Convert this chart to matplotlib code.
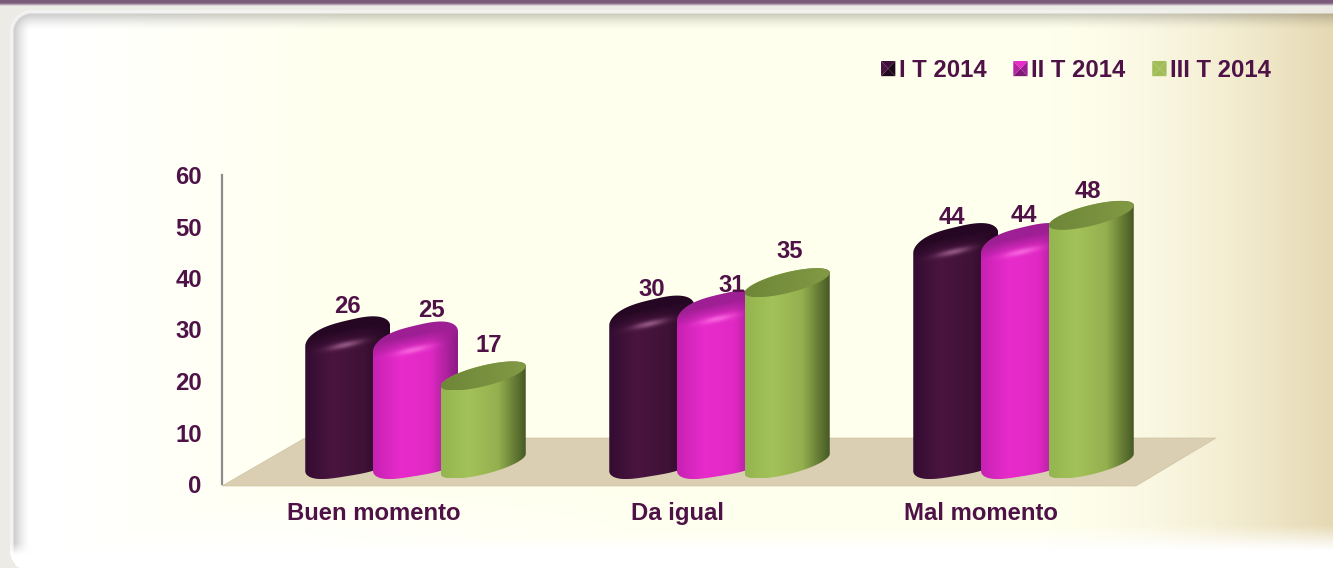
import matplotlib
matplotlib.use("Agg")
import matplotlib.pyplot as plt
import numpy as np
from matplotlib.patches import Polygon, Patch
from matplotlib.legend_handler import HandlerPatch

plt.rcParams['font.family'] = ['Liberation Sans', 'DejaVu Sans']
plt.rcParams['font.weight'] = 'bold'

categories = ["Buen momento", "Da igual", "Mal momento"]
series_names = ["I T 2014", "II T 2014", "III T 2014"]
t1_values = [26, 30, 44]
t2_values = [25, 31, 44]
t3_values = [17, 35, 48]
y_ticks = [0, 10, 20, 30, 40, 50, 60]

W, H = 1333, 568
TXT = "#4e1246"

# left, middle, right colour across each cylinder
shades = [
    [(0.20, 0.05, 0.19), (0.29, 0.08, 0.25), (0.25, 0.07, 0.22), (0.14, 0.03, 0.13)],
    [(0.78, 0.13, 0.70), (0.91, 0.17, 0.80), (0.88, 0.16, 0.77), (0.55, 0.11, 0.52)],
    [(0.58, 0.71, 0.31), (0.64, 0.76, 0.35), (0.58, 0.69, 0.31), (0.28, 0.35, 0.14)],
]
cap_dark = [(0.15, 0.03, 0.14), (0.62, 0.12, 0.58)]
cap_light = [(0.66, 0.42, 0.60), (1.0, 0.50, 0.90)]

# label shift from the middle of each bar top, in pixels
label_dx = [[0, 16, 6], [0, 12, 2], [-4, 0, -3]]
label_dy = [[23, 24, 30.5], [19, 18, 31], [18.5, 20.5, 23.5]]

fig = plt.figure(figsize=(W / 100, H / 100), dpi=100)


def background():
    yy, xx = np.mgrid[0:H, 0:W]
    xx = xx + 0.5
    yy = yy + 0.5
    # ivory middle, tan to the right, white to the left and bottom
    ivory = np.array([1.0, 1.0, 0.93])
    tan = np.array([0.90, 0.85, 0.70])
    white = np.array([1.0, 1.0, 1.0])
    k = (np.clip((xx - 1050) / 283, 0, 1) ** 1.6)[..., None]
    img = ivory * (1 - k) + tan * k
    k = np.clip(1 - (xx - 60) / 300, 0, 1)[..., None]
    k2 = np.clip((yy - 525) / 25, 0, 1)[..., None]
    k = np.maximum(k, k2)
    k = np.maximum(k, np.clip((yy - 470) / 80, 0, 1)[..., None] * np.clip(1 - (xx - 300) / 500, 0, 1)[..., None])
    img = img * (1 - k) + white * k
    # rounded panel edge
    left, top, r = 10, 10, 22
    qx = np.maximum(left + r - xx, 0)
    qy = np.maximum(top + r - yy, 0)
    d = r - np.hypot(qx, qy)
    d = np.where((qx > 0) & (qy > 0), d, np.minimum(xx - left, yy - top))
    # shadow only from the top and left sides, gone before the bottom corner
    fade = np.clip((555 - yy) / 12, 0, 1)
    sh = 1 - 0.2 * fade * np.clip(1 - (d - 4) / 16, 0, 1) ** 1.5
    img = img * sh[..., None]
    lowx = np.maximum(left + r - xx, 0)
    lowy = np.maximum(yy - (H + 4 - r), 0)
    d2 = r - np.hypot(lowx, lowy)
    d = np.where((lowx > 0) & (lowy > 0), d2, d)
    edge = np.clip(1 - (d - 2.5) / 2, 0, 1)[..., None]
    img = img * (1 - edge) + (img * 0.25 + 0.75) * edge
    out = np.array([0.93, 0.925, 0.90])
    img = np.where((d < 0)[..., None], out, img)
    strip = np.clip(1 - (yy - 3) / 3, 0, 1)[..., None]
    img = img * (1 - strip) + np.array([0.48, 0.36, 0.48]) * strip
    return img


bg = fig.add_axes([0, 0, 1, 1])
bg.imshow(background(), extent=(0, W, H, 0), aspect='auto', interpolation='bilinear')
bg.add_patch(Polygon([(222, 486), (1136, 486), (1216, 438), (305, 438)], fc="#dacfb2", ec="#cfc3a3", lw=0.5))
bg.set_xlim(0, W)
bg.set_ylim(H, 0)
bg.axis('off')

# axis with the tick labels
ax = fig.add_axes([222 / W, (H - 484) / H, 914 / W, 309 / H])
ax.patch.set_visible(False)
ax.set_ylim(0, 60)
ax.set_yticks(y_ticks)
ax.set_xlim((222 - 374) / 303.5, (1136 - 374) / 303.5)
ax.set_xticks(range(len(categories)))
ax.set_xticklabels(categories)
ax.tick_params(length=0, labelsize=17.2, labelcolor=TXT)
ax.tick_params(axis='y', pad=14.5)
ax.tick_params(axis='x', pad=13)
for s in ['top', 'right', 'bottom']:
    ax.spines[s].set_visible(False)
ax.spines['left'].set_color("#8c8c8c")
ax.spines['left'].set_linewidth(1.6)

# cylinders: category index on x, percent on y
PX_X = 304.0
PX_Y = 5.18
BASE = 464.0
cyl = fig.add_axes([0, 0, 1, 1])
cyl.patch.set_visible(False)
cyl.axis('off')
A = 42.5 / PX_X


def outline(cx, v, bevel):
    t = np.linspace(np.pi, 2 * np.pi, 60)
    s, b = 10.0, 10.5
    if bevel:
        c = np.sign(np.cos(t)) * np.abs(np.cos(t)) ** 0.6
        xs = list(cx + A * c)
        ys = list((7 * c + 12 * np.sin(t)) / PX_Y)
    else:
        xs = list(cx + A * np.cos(t))
        ys = list((s * np.cos(t) + b * np.sin(t)) / PX_Y)
    t = np.linspace(0, np.pi, 80)
    if bevel:
        c = np.sign(np.cos(t)) * np.abs(np.cos(t)) ** 0.7
        xs += list(cx + A * c)
        ys += list(v + (-7 + 10 * c + 16 * np.sin(t)) / PX_Y)
    else:
        xs += list(cx + A * np.cos(t))
        ys += list(v + (s * np.cos(t) + b * np.sin(t)) / PX_Y)
    return np.column_stack([xs, ys])


def draw_bar(cx, v, i, z):
    bevel = i < 2
    pts = outline(cx, v, bevel)
    x0, x1 = cx - A, cx + A
    y0, y1 = pts[:, 1].min(), pts[:, 1].max()
    nx, ny = 85, int((y1 - y0) * PX_Y) + 1
    X = np.linspace(-1, 1, nx)
    Y = np.linspace(y0, y1, ny)
    XX, YY = np.meshgrid(X, Y)
    stops = np.array(shades[i])
    body = np.stack([np.interp(XX, [-1, -0.35, 0.35, 1], stops[:, c]) for c in range(3)], axis=-1)
    # distance below the sheared top, pixels
    rel = (YY - v) * PX_Y - 9.0 * XX
    if bevel:
        w = np.clip((rel + 15) / 15, 0, 1)[..., None]
        body = body * (1 - w) + np.array(cap_dark[i]) * w
        spot = np.exp(-((XX + 0.05) / 0.38) ** 2 - ((rel + 15) / 3.2) ** 2)[..., None]
        spot = spot * (0.75 if i == 0 else 0.65)
        body = body * (1 - spot) + np.array(cap_light[i]) * spot
    im = cyl.imshow(body, extent=(x0, x1, y0, y1), origin='lower', aspect='auto', zorder=z, interpolation='bilinear')
    im.set_clip_path(Polygon(pts, closed=True, transform=cyl.transData))
    if not bevel:
        t = np.linspace(0, 2 * np.pi, 100)
        top = np.column_stack([cx + A * np.cos(t), v + (10 * np.cos(t) + 10.5 * np.sin(t)) / PX_Y])
        g = np.linspace(0, 1, 85)
        cap = np.array([(0.43, 0.53, 0.22)]) * (1 - g[:, None]) + np.array([(0.51, 0.60, 0.27)]) * g[:, None]
        im2 = cyl.imshow(cap[None, :, :], extent=(x0, x1, top[:, 1].min(), top[:, 1].max()), aspect='auto', zorder=z + 0.1)
        im2.set_clip_path(Polygon(top, closed=True, transform=cyl.transData))


all_values = [t1_values, t2_values, t3_values]
for c in range(len(categories)):
    for i, vals in enumerate(all_values):
        cx = c + (i - 1) * 67.75 / PX_X
        draw_bar(cx, vals[c], i, 3 + c + i * 0.2)
        cyl.annotate(str(vals[c]), (cx, vals[c]), xytext=(label_dx[c][i] * 0.72, label_dy[c][i] * 0.72),
                     textcoords='offset points', ha='center', va='center', fontsize=17.2,
                     color=TXT, zorder=20, annotation_clip=False)

cyl.set_xlim((0 - 415.5) / PX_X, (W - 415.5) / PX_X)
cyl.set_ylim((BASE - H) / PX_Y, BASE / PX_Y)


class PyramidHandler(HandlerPatch):
    # little square legend key with four shaded faces
    def __init__(self, faces):
        super().__init__()
        self.faces = faces

    def create_artists(self, legend, orig, xd, yd, w, h, fs, trans):
        x0, y0 = -xd, -yd
        mid = (x0 + w / 2, y0 + h / 2)
        c = [(x0, y0), (x0 + w, y0), (x0 + w, y0 + h), (x0, y0 + h)]
        out = []
        for k in range(4):
            out.append(Polygon([c[k], c[(k + 1) % 4], mid], fc=self.faces[k], ec='none', transform=trans))
        return out


handles = [Patch(label=n) for n in series_names]
hmap = {
    handles[0]: PyramidHandler(["#1f061d", "#1a0519", "#3d0f38", "#4a1442"]),
    handles[1]: PyramidHandler(["#7d1a78", "#9a1f90", "#e82ccb", "#b8249f"]),
    handles[2]: PyramidHandler(["#a0bd58"] * 4),
}
fig.legend(handles=handles, handler_map=hmap, loc='upper left', bbox_to_anchor=(881 / W, 1 - 59 / H),
           ncol=3, frameon=False, fontsize=17.2, labelcolor=TXT, handlelength=0.6, handleheight=0.6,
           handletextpad=0.15, columnspacing=1.12, borderpad=0, borderaxespad=0)

fig.savefig("out.png", dpi=100)
